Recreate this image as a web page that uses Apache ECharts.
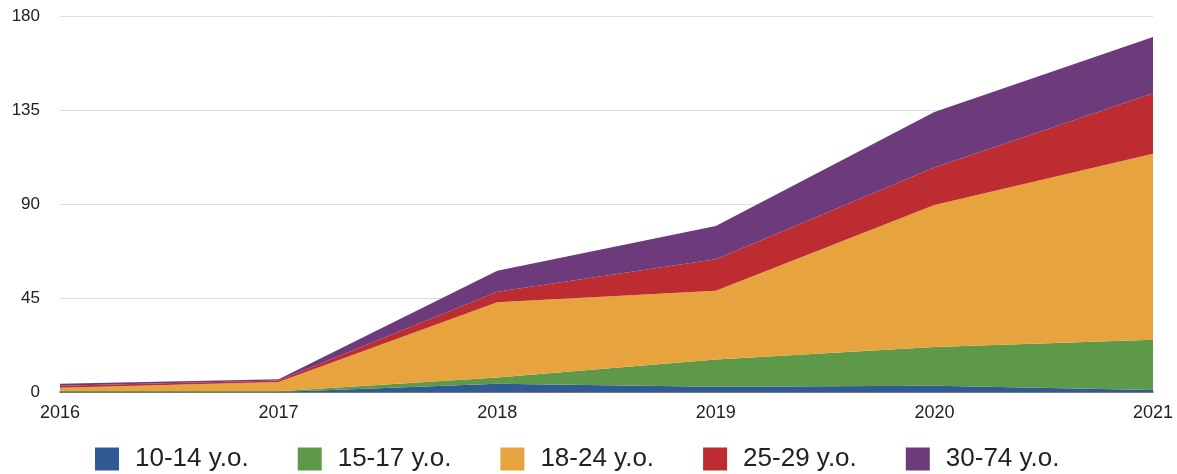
<!DOCTYPE html>
<html>
<head>
<meta charset="utf-8">
<script src="https://cdn.jsdelivr.net/npm/echarts@6/dist/echarts.min.js"></script>
<style>
  html, body { margin: 0; padding: 0; background: #fff; }
  #chart { width: 1177px; height: 474px; }
</style>
</head>
<body>
<div id="chart"></div>
<script>
// ============ 年龄段堆叠面积图 ============
const years = ['2016', '2017', '2018', '2019', '2020', '2021'];
const age10to14 = [0, 0, 4, 2.5, 3, 1];
const age15to17 = [0.5, 0.3, 3, 13, 18.5, 24];
const age18to24 = [1.5, 4.5, 36, 33, 68, 89];
const age25to29 = [1, 0.7, 5, 15, 18, 29];
const age30to74 = [1, 0.6, 10, 16, 26.5, 27];
const yTicks = { min: 0, max: 180, interval: 45 };

const seriesNames = ['10-14 y.o.', '15-17 y.o.', '18-24 y.o.', '25-29 y.o.', '30-74 y.o.'];
const seriesData = [age10to14, age15to17, age18to24, age25to29, age30to74];
const colors = ['#2f5a93', '#5e9849', '#e7a33e', '#bd2c30', '#6d3b7b'];

const chart = echarts.init(document.getElementById('chart'), null, { renderer: 'canvas' });

chart.setOption({
  animation: false,
  textStyle: { fontFamily: 'Liberation Sans, Arial, sans-serif' },
  grid: { left: 60, right: 24, top: 16, bottom: 82 },
  legend: {
    top: 441,
    left: 90,
    itemWidth: 24,
    itemHeight: 23,
    itemGap: 49,
    icon: 'rect',
    textStyle: { fontSize: 26, color: '#222', padding: [0, 0, 0, 11] },
    data: seriesNames,
  },
  xAxis: {
    type: 'category',
    boundaryGap: false,
    data: years,
    axisLine: { lineStyle: { color: '#555', width: 1.5 } },
    axisTick: { show: false },
    axisLabel: { fontSize: 18, color: '#222', margin: 12 },
  },
  yAxis: {
    type: 'value',
    min: yTicks.min,
    max: yTicks.max,
    interval: yTicks.interval,
    axisLine: { show: false },
    axisTick: { show: false },
    axisLabel: { fontSize: 17, color: '#222', margin: 20 },
    splitLine: { lineStyle: { color: '#ddd', width: 1 } },
  },
  series: seriesNames.map((name, i) => ({
    name: name,
    type: 'line',
    stack: 'total',
    data: seriesData[i],
    symbol: 'none',
    lineStyle: { width: 0 },
    areaStyle: { color: colors[i], opacity: 1 },
    itemStyle: { color: colors[i] },
  })),
});
</script>
</body>
</html>
